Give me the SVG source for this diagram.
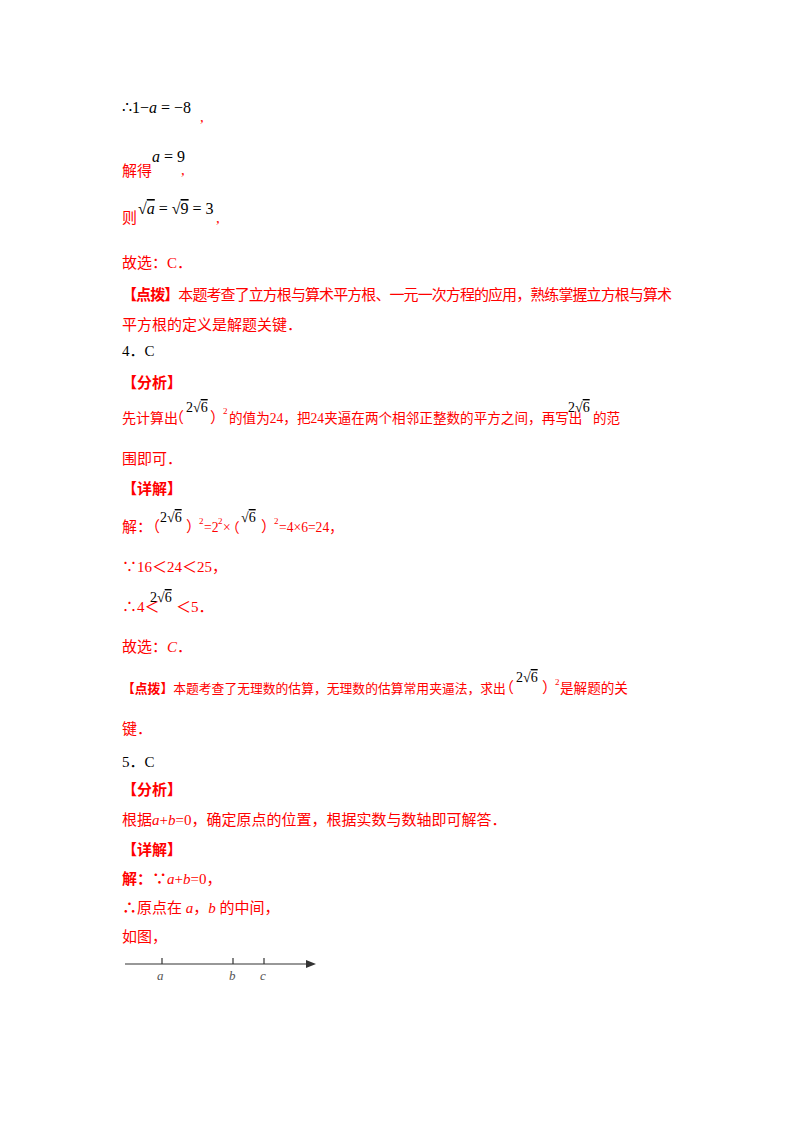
<svg xmlns="http://www.w3.org/2000/svg" width="800" height="1132" viewBox="0 0 800 1132">
<style>
text{font-family:"Liberation Serif","Noto Sans CJK SC",serif;font-size:15px}
.r{fill:#ff0000}
.k{fill:#000}
.m{font-family:"Liberation Serif",serif;font-size:16px;fill:#000}
.m2{font-family:"Liberation Serif",serif;font-size:14px;fill:#000}
.i{font-style:italic}
.s{font-size:9px}
.b{font-weight:bold}
.n{font-size:13.6px}
.lb{font-size:13px;fill:#555;font-style:italic}
</style>
<rect width="800" height="1132" fill="#fff"/>
<text x="122" y="113" class="m">∴1−<tspan class="i">a</tspan> = −8</text>
<text x="200" y="122" class="r">,</text>
<text x="122" y="176" class="r">解得</text>
<text x="152" y="162" class="m"><tspan class="i">a</tspan> = 9</text>
<text x="181" y="175" class="r">,</text>
<text x="122" y="223" class="r">则</text>
<text x="138" y="214" class="m">√<tspan class="i" text-decoration="overline">a</tspan> = √<tspan text-decoration="overline">9</tspan> = 3</text>
<text x="216" y="223" class="r">,</text>
<text x="122" y="268" class="r">故选：C．</text>
<text x="122" y="300" class="r" textLength="550"><tspan class="b">【点拨】</tspan>本题考查了立方根与算术平方根、一元一次方程的应用，熟练掌握立方根与算术</text>
<text x="122" y="330" class="r">平方根的定义是解题关键．</text>
<text x="122" y="356" class="k">4．C</text>
<text x="122" y="388" class="r b">【分析】</text>
<text x="122" y="423" class="r" style="font-size:14px">先计算出</text>
<text x="169" y="423" class="r">（</text>
<text x="186" y="412" class="m2">2√<tspan text-decoration="overline">6</tspan></text>
<text x="210" y="423" class="r">）</text>
<text x="223" y="414" class="r s">2</text>
<text x="229" y="423" class="r n">的值为24，把24夹逼在两个相邻正整数的平方之间，再写出</text>
<text x="568" y="412" class="m2">2√<tspan text-decoration="overline">6</tspan></text>
<text x="593" y="423" class="r n">的范</text>
<text x="122" y="464" class="r">围即可．</text>
<text x="122" y="494" class="r b">【详解】</text>
<text x="122" y="532" class="r">解：</text>
<text x="145" y="532" class="r">（</text>
<text x="160" y="522" class="m2">2√<tspan text-decoration="overline">6</tspan></text>
<text x="186" y="532" class="r">）</text>
<text x="199" y="524" class="r s">2</text>
<text x="204" y="532" class="r n">=2</text>
<text x="218" y="524" class="r s">2</text>
<text x="223" y="532" class="r n">×</text>
<text x="226" y="532" class="r n">（</text>
<text x="241" y="522" class="m2">√<tspan text-decoration="overline">6</tspan></text>
<text x="261" y="532" class="r">）</text>
<text x="274" y="524" class="r s">2</text>
<text x="279" y="532" class="r n">=4×6=24，</text>
<text x="122" y="572" class="r">∵16＜24＜25，</text>
<text x="122" y="612" class="r">∴4＜</text>
<text x="150" y="602" class="m2">2√<tspan text-decoration="overline">6</tspan></text>
<text x="176" y="612" class="r">＜5．</text>
<text x="122" y="652" class="r">故选：<tspan class="i">C</tspan>．</text>
<text x="122" y="693" class="r" style="font-size:12.8px"><tspan class="b">【点拨】</tspan>本题考查了无理数的估算，无理数的估算常用夹逼法，求出</text>
<text x="499" y="693" class="r">（</text>
<text x="516" y="682" class="m2">2√<tspan text-decoration="overline">6</tspan></text>
<text x="542" y="693" class="r">）</text>
<text x="555" y="685" class="r s">2</text>
<text x="560" y="693" class="r n">是解题的关</text>
<text x="122" y="734" class="r">键．</text>
<text x="122" y="767" class="k">5．C</text>
<text x="122" y="795" class="r b">【分析】</text>
<text x="122" y="825" class="r">根据<tspan class="i">a</tspan>+<tspan class="i">b</tspan>=0，确定原点的位置，根据实数与数轴即可解答．</text>
<text x="122" y="855" class="r b">【详解】</text>
<text x="122" y="884" class="r b">解：∵<tspan class="i" font-weight="normal">a</tspan><tspan font-weight="normal">+</tspan><tspan class="i" font-weight="normal">b</tspan><tspan font-weight="normal">=0，</tspan></text>
<text x="122" y="913" class="r"><tspan class="b">∴</tspan>原点在 <tspan class="i">a</tspan>，<tspan class="i">b</tspan> 的中间，</text>
<text x="122" y="942" class="r">如图，</text>
<g id="numberline" stroke="#333" stroke-width="1.2">
<line x1="125" y1="964" x2="308" y2="964"/>
<polygon points="306,960 316,964 306,968" fill="#333" stroke="none"/>
<line x1="162" y1="958" x2="162" y2="964"/>
<line x1="233" y1="958" x2="233" y2="964"/>
<line x1="264" y1="958" x2="264" y2="964"/>
</g>
<text x="157" y="980" class="lb">a</text>
<text x="229" y="980" class="lb">b</text>
<text x="260" y="980" class="lb">c</text>
</svg>
